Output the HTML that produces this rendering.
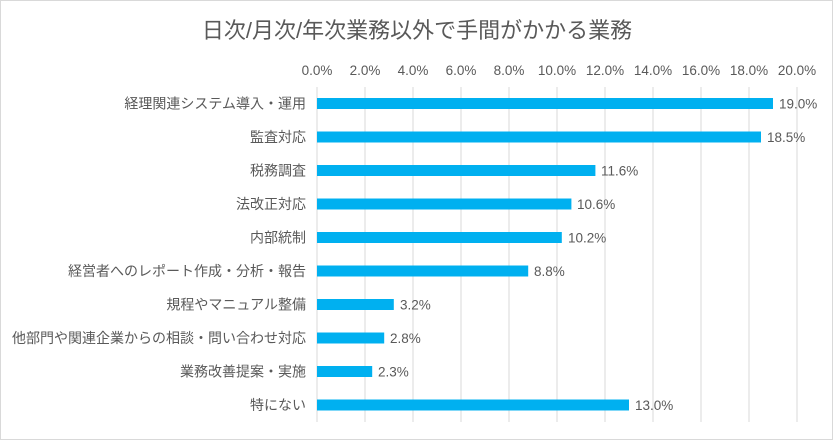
<!DOCTYPE html>
<html><head><meta charset="utf-8"><style>
body{margin:0;background:#fff}
svg{display:block;font-family:"Liberation Sans","Noto Sans CJK JP",sans-serif}
</style></head><body>
<svg width="833" height="440" viewBox="0 0 833 440">
<rect x="0.5" y="0.5" width="832" height="439" fill="#fff" stroke="#d9d9d9"/>
<text x="417" y="38" font-size="22" fill="#595959" text-anchor="middle">日次/月次/年次業務以外で手間がかかる業務</text>
<g font-size="13.5" fill="#595959" text-anchor="middle">
<text x="317" y="75">0.0%</text><text x="365" y="75">2.0%</text><text x="413" y="75">4.0%</text><text x="461" y="75">6.0%</text><text x="509" y="75">8.0%</text><text x="557" y="75">10.0%</text><text x="605" y="75">12.0%</text><text x="653" y="75">14.0%</text><text x="701" y="75">16.0%</text><text x="749" y="75">18.0%</text><text x="797" y="75">20.0%</text>
</g>
<g stroke="#d9d9d9" stroke-width="1">
<line x1="317" y1="87" x2="317" y2="422"/><line x1="365" y1="87" x2="365" y2="422"/><line x1="413" y1="87" x2="413" y2="422"/><line x1="461" y1="87" x2="461" y2="422"/><line x1="509" y1="87" x2="509" y2="422"/><line x1="557" y1="87" x2="557" y2="422"/><line x1="605" y1="87" x2="605" y2="422"/><line x1="653" y1="87" x2="653" y2="422"/><line x1="701" y1="87" x2="701" y2="422"/><line x1="749" y1="87" x2="749" y2="422"/><line x1="797" y1="87" x2="797" y2="422"/>
</g>
<g fill="#00b0f0">
<rect x="317" y="98" width="456" height="11"/>
<rect x="317" y="131.5" width="444" height="11"/>
<rect x="317" y="165" width="278.4" height="11"/>
<rect x="317" y="198.5" width="254.4" height="11"/>
<rect x="317" y="232" width="244.8" height="11"/>
<rect x="317" y="265.5" width="211.2" height="11"/>
<rect x="317" y="299" width="76.8" height="11"/>
<rect x="317" y="332.5" width="67.2" height="11"/>
<rect x="317" y="366" width="55.2" height="11"/>
<rect x="317" y="399.5" width="312" height="11"/>
</g>
<g font-size="13.5" fill="#595959">
<text x="779" y="108.5">19.0%</text>
<text x="767" y="142">18.5%</text>
<text x="601" y="175.5">11.6%</text>
<text x="577" y="209">10.6%</text>
<text x="568" y="242.5">10.2%</text>
<text x="534" y="276">8.8%</text>
<text x="400" y="309.5">3.2%</text>
<text x="390" y="343">2.8%</text>
<text x="378" y="376.5">2.3%</text>
<text x="635" y="410">13.0%</text>
</g>
<g font-size="14" fill="#595959" text-anchor="end">
<text x="306" y="108.5">経理関連システム導入・運用</text>
<text x="306" y="142">監査対応</text>
<text x="306" y="175.5">税務調査</text>
<text x="306" y="209">法改正対応</text>
<text x="306" y="242.5">内部統制</text>
<text x="306" y="276">経営者へのレポート作成・分析・報告</text>
<text x="306" y="309.5">規程やマニュアル整備</text>
<text x="306" y="343">他部門や関連企業からの相談・問い合わせ対応</text>
<text x="306" y="376.5">業務改善提案・実施</text>
<text x="306" y="410">特にない</text>
</g>
</svg>
</body></html>
